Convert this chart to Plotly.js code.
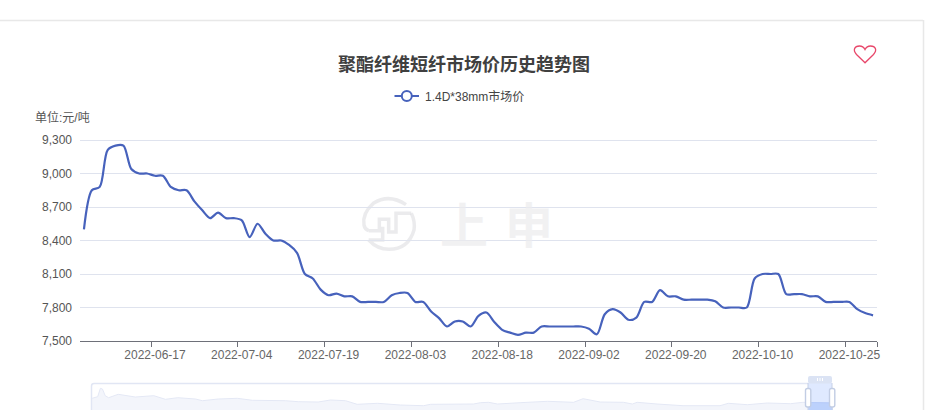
<!DOCTYPE html>
<html><head><meta charset="utf-8">
<script src="https://cdn.plot.ly/plotly-3.0.1.min.js"></script>
<style>html,body{margin:0;padding:0;background:#fff;overflow:hidden}#c{width:929px;height:410px}</style></head>
<body><div id="c"></div>
<script>
const dates = ["2022-06-06","2022-06-07","2022-06-08","2022-06-09","2022-06-10","2022-06-13","2022-06-14","2022-06-15","2022-06-16","2022-06-17",
"2022-06-20","2022-06-21","2022-06-22","2022-06-23","2022-06-24","2022-06-27","2022-06-28","2022-06-29","2022-06-30","2022-07-01",
"2022-07-04","2022-07-05","2022-07-06","2022-07-07","2022-07-08","2022-07-11","2022-07-12","2022-07-13","2022-07-14","2022-07-15",
"2022-07-18","2022-07-19","2022-07-20","2022-07-21","2022-07-22","2022-07-25","2022-07-26","2022-07-27","2022-07-28","2022-07-29",
"2022-08-01","2022-08-02","2022-08-03","2022-08-04","2022-08-05","2022-08-08","2022-08-09","2022-08-10","2022-08-11","2022-08-12",
"2022-08-15","2022-08-16","2022-08-17","2022-08-18","2022-08-19","2022-08-22","2022-08-23","2022-08-24","2022-08-25","2022-08-26",
"2022-08-29","2022-08-30","2022-08-31","2022-09-01","2022-09-02","2022-09-05","2022-09-06","2022-09-07","2022-09-08","2022-09-09",
"2022-09-13","2022-09-14","2022-09-15","2022-09-16","2022-09-19","2022-09-20","2022-09-21","2022-09-22","2022-09-23","2022-09-26",
"2022-09-27","2022-09-28","2022-09-29","2022-09-30","2022-10-08","2022-10-09","2022-10-10","2022-10-11","2022-10-12","2022-10-13",
"2022-10-14","2022-10-17","2022-10-18","2022-10-19","2022-10-20","2022-10-21","2022-10-24","2022-10-25","2022-10-26","2022-10-27","2022-10-28"];
const prices = [8500,8850,8880,9210,9250,9250,9040,9000,9000,8980,
8980,8880,8850,8850,8750,8670,8600,8650,8600,8600,
8580,8430,8550,8460,8400,8400,8360,8290,8100,8060,
7960,7910,7925,7900,7900,7850,7850,7850,7850,7910,
7930,7930,7850,7850,7765,7705,7630,7675,7675,7630,
7725,7755,7670,7600,7575,7555,7575,7575,7630,7630,
7630,7630,7630,7630,7610,7560,7740,7785,7755,7690,
7710,7850,7850,7955,7900,7900,7870,7870,7870,7870,
7855,7800,7800,7800,7800,8060,8100,8100,8100,7920,
7920,7920,7900,7900,7850,7850,7850,7850,7785,7750,7730];
const tickDates = ["2022-06-17","2022-07-04","2022-07-19","2022-08-03","2022-08-18","2022-09-02","2022-09-20","2022-10-10","2022-10-25"];
const overviewYears = [2012.0,2012.08,2012.12,2012.15,2012.19,2012.24,2012.38,2012.63,2012.9,2013.07,2013.25,2013.51,2013.61,2013.84,2014.12,2014.34,2014.82,2015.01,2015.3,2015.48,2015.7,2015.87,2016.17,2016.5,2016.84,2016.94,2017.57,2017.67,2017.79,2017.92,2018.25,2018.65,2019.03,2019.17,2019.42,2019.76,2019.89,2019.96,2020.25,2020.63,2021.17,2021.29,2021.57,2021.86,2022.2,2022.38,2022.46,2022.78,2022.82];
const overviewPrices = [9065,9520,11915,11715,9805,9235,10205,9435,9805,8780,9235,8865,8380,8865,9065,8495,8380,8095,8010,8580,8380,7355,7640,7155,6955,7355,7440,7810,7925,7440,7810,8210,7925,8950,8010,7925,7440,7925,7440,6955,6955,7640,7240,7725,7525,7925,7870,7725,7730];
const seriesName = "1.4D*38mm市场价";
const chartTitle = "聚酯纤维短纤市场价历史趋势图";
const unitLabel = "单位:元/吨";
const watermark = ["上","申"];

const PT=130, PH=280;
const px = x => (x-80)/797, py = y => (410-y)/PH;
const pt = p => px(p[0])+','+py(p[1]);
const ln = (x0,y0,x1,y1,c,w) => ({type:'line',xref:'paper',yref:'paper',x0:px(x0),y0:py(y0),x1:px(x1),y1:py(y1),line:{color:c,width:w}});
const shp = (d,c,w,f,layer) => ({type:'path',xref:'paper',yref:'paper',path:d,line:{color:c,width:w},fillcolor:f||'rgba(0,0,0,0)',layer:layer||'above'});
const poly = a => 'M'+a.map(pt).join(' L');
const rrect = (x0,y0,x1,y1,r) => `M${pt([x0+r,y0])} L${pt([x1-r,y0])} Q${pt([x1,y0])} ${pt([x1,y0+r])} L${pt([x1,y1-r])} Q${pt([x1,y1])} ${pt([x1-r,y1])} L${pt([x0+r,y1])} Q${pt([x0,y1])} ${pt([x0,y1-r])} L${pt([x0,y0+r])} Q${pt([x0,y0])} ${pt([x0+r,y0])} Z`;
const circle = (cx,cy,r,c,w,f) => ({type:'circle',xref:'paper',yref:'paper',x0:px(cx-r),x1:px(cx+r),y0:py(cy+r),y1:py(cy-r),line:{color:c,width:w},fillcolor:f});
const z = (a,b) => [340+a/3,180+b/3];
const wm = 'rgba(222,222,226,0.62)';
const wmText = 'rgba(236,236,238,0.72)';
const arc = (pts) => { let d='M'+pt(pts[0]); for(let i=1;i+1<pts.length;i+=2) d+=' Q'+pt(pts[i])+' '+pt(pts[i+1]); return d; };
const shapes = [
 ln(0,20.5,923,20.5,'#e8e8e8',1.5), ln(923.5,20,923.5,410,'#e8e8e8',1.5),
 shp(arc([z(198,74),z(147,40),z(100,70),z(66,100),z(72,135),z(74,148),z(86,152)])+' '+poly([z(86,152),z(118,152),z(118,118),z(146,118),z(146,156),z(168,156),z(168,100),z(214,100)]),wm,3.5,null,'below'),
 shp(arc([z(214,100),z(226,125),z(222,150),z(205,208),z(147,208),z(112,208),z(86,180)])+' '+poly([z(86,180),z(128,180),z(128,140)]),wm,3.5,null,'below'),
 shp(`M${pt([865,62.8])} L${pt([856.5,54.5])} C${pt([852.5,50])} ${pt([854.5,46])} ${pt([859.5,46])} C${pt([862,46])} ${pt([864,47.5])} ${pt([865,49.5])} C${pt([866,47.5])} ${pt([868,46])} ${pt([870.5,46])} C${pt([875.5,46])} ${pt([877.5,50])} ${pt([873.5,54.5])} Z`,'#e8476a',1.3),
 ln(394.5,96,419,96,'#4762bc',2), circle(406.8,96,5,'#4762bc',2,'#fff'),
 shp(`M${pt([91.5,410])} L${pt([91.5,386])} Q${pt([91.5,383.5])} ${pt([94,383.5])} L${pt([808,383.5])}`,'#e1e6f4',1.5),
 {type:'rect',xref:'paper',yref:'paper',x0:px(808),x1:px(832),y0:py(410),y1:py(383),line:{width:0},fillcolor:'rgba(110,155,255,0.22)'},
 shp(rrect(808,376,832,383.5,2),'rgba(0,0,0,0)',0,'#dbe3f4'),
 ln(808,383,808,410,'#c6d0e6',1), ln(832,383,832,410,'#c6d0e6',1),
 ln(817.5,378,817.5,381,'#fff',1), ln(820,378,820,381,'#fff',1), ln(822.5,378,822.5,381,'#fff',1),
 shp(rrect(805.5,388.5,810.8,407,2),'#c2cde4',1.4,'#fff'),
 shp(rrect(829.5,388.5,834.8,407,2),'#c2cde4',1.4,'#fff')
];
const ann = (x,y,t,size,color,fam,anchor) => ({xref:'paper',yref:'paper',x:px(x),y:py(y),text:t,showarrow:false,xanchor:anchor||'left',yanchor:'middle',font:{size,color,family:fam||'Liberation Sans, Noto Sans CJK SC'},captureevents:false});
const sel = overviewYears.map((v,i)=>v>=2022.46?i:-1).filter(i=>i>=0);
Plotly.newPlot('c',[
 {x:dates,y:prices,type:'scatter',mode:'lines',name:seriesName,line:{color:'#4762bc',width:2.2,shape:'spline',smoothing:0.85},hoverinfo:'x+y'},
 {x:[0,101],y:[7500,7500],xaxis:'x2',yaxis:'y',type:'scatter',mode:'lines',line:{width:0},hoverinfo:'skip',showlegend:false},
 {x:overviewYears,y:overviewPrices,xaxis:'x3',yaxis:'y2',type:'scatter',mode:'lines',fill:'tozeroy',line:{color:'#e4e8f5',width:1},fillcolor:'#f3f5fb',hoverinfo:'skip'},
 {x:sel.map(i=>overviewYears[i]),y:sel.map(i=>overviewPrices[i]),xaxis:'x3',yaxis:'y2',type:'scatter',mode:'lines',fill:'tozeroy',line:{color:'#c9d8f8',width:1},fillcolor:'#d3e0fb',hoverinfo:'skip'}
],{
  width:929,height:410,showlegend:false,
  margin:{l:80,r:52,t:PT,b:0},
  paper_bgcolor:'#fff',plot_bgcolor:'rgba(0,0,0,0)',
  font:{family:'Liberation Sans, Noto Sans CJK SC',size:12,color:'#666'},
  xaxis:{type:'category',range:[-0.5,100.5],anchor:'y',tickmode:'array',tickvals:tickDates,ticktext:tickDates,
    ticks:'outside',ticklen:3,tickcolor:'rgba(0,0,0,0)',showline:true,linecolor:'#6e7079',linewidth:1,showgrid:false,
    tickfont:{size:12,color:'#666'},tickangle:0,automargin:false},
  xaxis2:{overlaying:'x',anchor:'y',side:'bottom',type:'linear',range:[0,101],tickmode:'array',
    tickvals:tickDates.map(d=>dates.indexOf(d)).concat([dates.length]),ticktext:tickDates.map(()=>'').concat(['']),
    ticks:'outside',ticklen:5,tickcolor:'#6e7079',showgrid:false,zeroline:false,showline:false,automargin:false},
  yaxis:{domain:[py(341),py(138.33)],range:[7500,9315],anchor:'x',tickmode:'linear',tick0:7500,dtick:300,tickformat:',d',showgrid:true,gridcolor:'#dfe3ee',gridwidth:1,
    zeroline:false,showline:false,ticks:'',ticklabelstandoff:7,tickfont:{size:12,color:'#555'},automargin:false},
  xaxis3:{domain:[px(91.5),px(833)],anchor:'y2',type:'linear',range:[2011.99,2022.82],visible:false,fixedrange:true},
  yaxis2:{domain:[0,py(384)],anchor:'x3',type:'linear',range:[5730,13140],visible:false,fixedrange:true},
  annotations:[
   ann(464,63,'<b>'+chartTitle+'</b>',18,'#404040','Noto Sans CJK SC','center'),
   ann(422.5,96,seriesName,12,'#444'),
   ann(32.5,118,unitLabel,12,'#555'),
   ann(464,222,'<b>'+watermark[0]+'</b>',48,wmText,'Noto Sans CJK SC','center'),
   ann(529,222,'<b>'+watermark[1]+'</b>',48,wmText,'Noto Sans CJK SC','center')
  ],
  shapes
},{displayModeBar:false});
</script></body></html>
